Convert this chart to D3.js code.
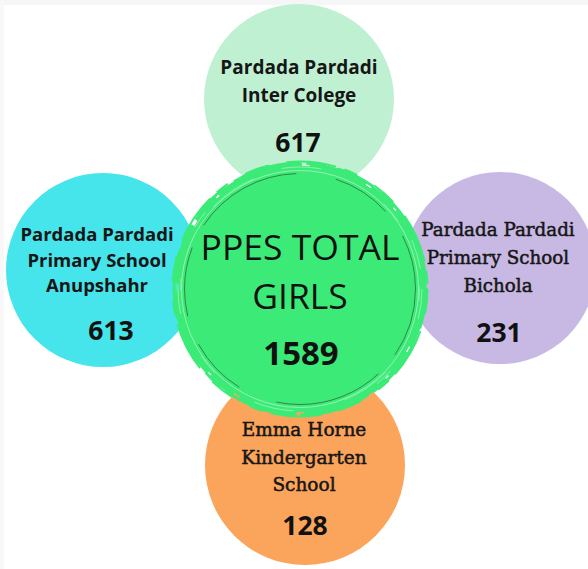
<!DOCTYPE html>
<html>
<head>
<meta charset="utf-8">
<script src="https://cdn.jsdelivr.net/npm/d3@7"></script>
<style>
  html, body { margin: 0; padding: 0; background: #fff; }
  svg { display: block; }
</style>
</head>
<body>
<svg width="588" height="569"></svg>
<script>
'use strict';

// data
var schools = ['Inter Colege', 'Anupshahr', 'Bichola', 'Kindergarten'];
var labels = [
  'Pardada Pardadi\nInter Colege',
  'Pardada Pardadi\nPrimary School\nAnupshahr',
  'Pardada Pardadi\nPrimary School\nBichola',
  'Emma Horne\nKindergarten\nSchool'
];
var girls = [617, 613, 231, 128];
var totalTitle = ['PPES TOTAL', 'GIRLS'];
var totalGirls = 1589;
var colors = ['#bff0d2', '#46e4eb', '#c8b9e4', '#fba45b'];

var W = 588, H = 569;
var CX = 300, CY = 289;

var svg = d3.select('svg');

svg.append('rect').attr('width', W).attr('height', H).attr('fill', '#fff');
svg.append('rect').attr('width', W).attr('height', 5).attr('fill', '#f6f6f6');
svg.append('rect').attr('width', 4).attr('height', H).attr('fill', '#f8f8f8');

// petal layout (offsets from the centre)
var petalDx = d3.scaleOrdinal(schools, [-1, -197, 200, 5]);
var petalDy = d3.scaleOrdinal(schools, [-190, -19, -21, 176]);
var petalR = d3.scaleOrdinal(schools, [95, 97, 96, 100]);
var fill = d3.scaleOrdinal(schools, colors);
var fontFam = d3.scaleOrdinal(schools, ['Open Sans', 'Open Sans', 'DejaVu Serif', 'DejaVu Serif']);
var fontW = d3.scaleOrdinal(schools, [700, 700, 'normal', 'normal']);
var fontS = d3.scaleOrdinal(schools, [19, 18.5, 18.3, 18.5]);
var lineGap = d3.scaleOrdinal(schools, [28, 25.5, 28, 27.5]);
var firstY = d3.scaleOrdinal(schools, [-25, -29, -32, -29]);
var textDx = d3.scaleOrdinal(schools, [0, -6, -2, -1]);
var numDx = d3.scaleOrdinal(schools, [-1, 8, -1, 0]);
var numDy = d3.scaleOrdinal(schools, [53, 70, 74, 70]);

var rows = schools.map(function(s, i) {
  return { key: s, lines: labels[i].split('\n'), value: girls[i] };
});

var petals = svg.append('g').attr('id', 'petals')
  .selectAll('g')
  .data(rows)
  .enter()
  .append('g')
  .attr('transform', function(d) {
    return 'translate(' + (CX + petalDx(d.key)) + ',' + (CY + petalDy(d.key)) + ')';
  });

petals.append('circle')
  .attr('r', function(d) { return petalR(d.key); })
  .attr('fill', function(d) { return fill(d.key); });

petals.each(function(d) {
  var g = d3.select(this);
  g.selectAll('text.name')
    .data(d.lines)
    .enter()
    .append('text')
    .attr('class', 'name')
    .attr('text-anchor', 'middle')
    .attr('x', textDx(d.key))
    .attr('y', function(l, j) { return firstY(d.key) + j * lineGap(d.key); })
    .attr('font-family', fontFam(d.key))
    .attr('font-weight', fontW(d.key))
    .attr('font-size', fontS(d.key))
    .attr('fill', '#161616')
    .attr('stroke', fontW(d.key) === 'normal' ? '#161616' : 'none')
    .attr('stroke-width', 0.5)
    .text(function(l) { return l; });

  g.append('text')
    .attr('class', 'num')
    .attr('text-anchor', 'middle')
    .attr('x', numDx(d.key))
    .attr('y', numDy(d.key))
    .attr('font-family', 'Open Sans')
    .attr('font-weight', 700)
    .attr('font-size', 26.5)
    .attr('fill', '#111')
    .text(d.value);
});

// central brush circle
var hub = svg.append('g').attr('id', 'hub')
  .attr('transform', 'translate(' + CX + ',' + CY + ')');

hub.append('circle').attr('r', 123).attr('fill', '#3ceb77');

// ragged brush edge
var strokes = [
  { r: 124, w: 5, dash: '60 6 30 4 90 8' },
  { r: 126, w: 3, dash: '40 10 70 6 20 12' },
  { r: 127.5, w: 2, dash: '25 18 50 9 14 20' },
  { r: 121, w: 4, dash: '80 4 40 3' }
];
hub.selectAll('circle.brush')
  .data(strokes)
  .enter()
  .append('circle')
  .attr('class', 'brush')
  .attr('r', function(d) { return d.r; })
  .attr('fill', 'none')
  .attr('stroke', '#3ceb77')
  .attr('stroke-width', function(d) { return d.w; })
  .attr('stroke-dasharray', function(d) { return d.dash; });

// light streaks in the brush
var streaks = [
  { r: 122, dash: '30 60 18 90 40 120', o: 0.55 },
  { r: 119.5, dash: '12 80 50 140 22 70', o: 0.45 }
];
hub.selectAll('circle.streak')
  .data(streaks)
  .enter()
  .append('circle')
  .attr('class', 'streak')
  .attr('r', function(d) { return d.r; })
  .attr('fill', 'none')
  .attr('stroke', '#c8f7d6')
  .attr('stroke-width', 1)
  .attr('stroke-opacity', function(d) { return d.o; })
  .attr('stroke-dasharray', function(d) { return d.dash; });

// inner rings
hub.append('circle')
  .attr('r', 118.5)
  .attr('fill', 'none')
  .attr('stroke', '#b8f5cb')
  .attr('stroke-width', 1)
  .attr('stroke-opacity', 0.7);

hub.append('circle')
  .attr('r', 115.5)
  .attr('fill', 'none')
  .attr('stroke', '#2f6a3c')
  .attr('stroke-width', 1)
  .attr('stroke-opacity', 0.8)
  .attr('stroke-dasharray', '70 25 110 40 60 30');

// centre text
hub.selectAll('text.title')
  .data(totalTitle)
  .enter()
  .append('text')
  .attr('class', 'title')
  .attr('text-anchor', 'middle')
  .attr('x', 0)
  .attr('y', function(d, i) { return -29 + i * 49; })
  .attr('font-family', 'Open Sans')
  .attr('font-size', 35.5)
  .attr('fill', '#111')
  .text(function(d) { return d; });

hub.append('text')
  .attr('text-anchor', 'middle')
  .attr('x', 1)
  .attr('y', 76)
  .attr('font-family', 'Open Sans')
  .attr('font-weight', 700)
  .attr('font-size', 33)
  .attr('fill', '#111')
  .text(totalGirls);
</script>
</body>
</html>
